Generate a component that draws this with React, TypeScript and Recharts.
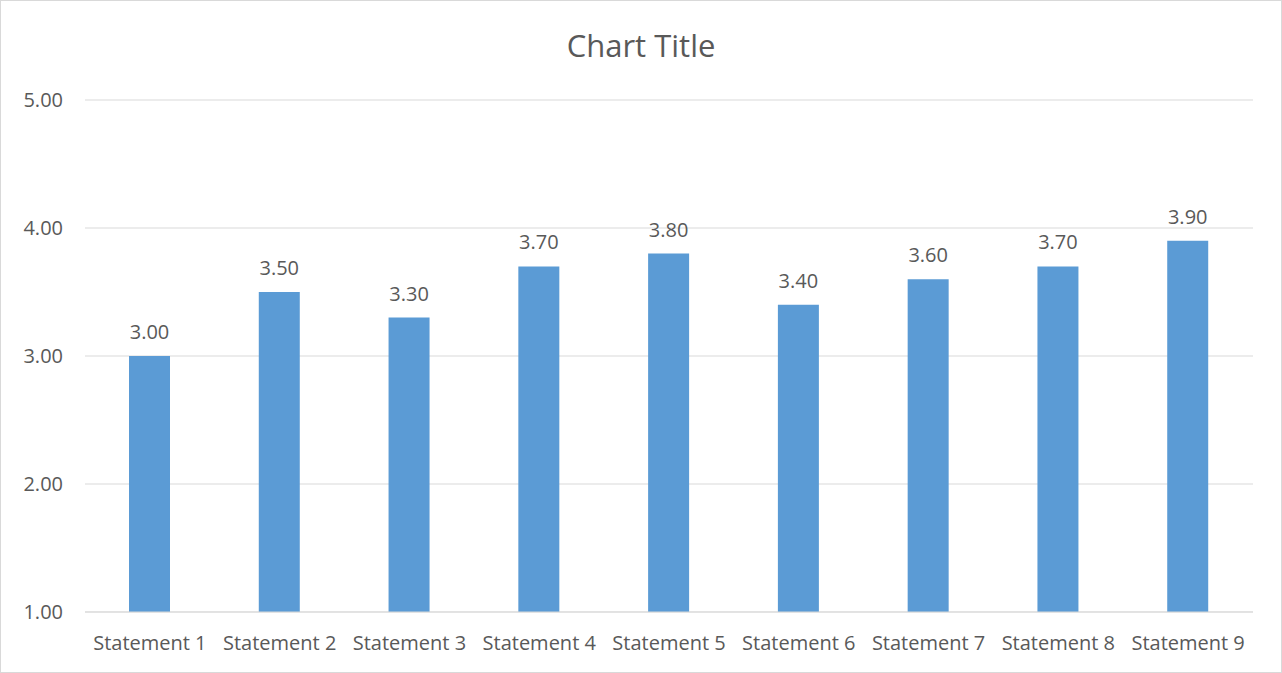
import { BarChart, Bar, XAxis, YAxis, CartesianGrid, LabelList } from 'recharts';

const categories = [
  'Statement 1',
  'Statement 2',
  'Statement 3',
  'Statement 4',
  'Statement 5',
  'Statement 6',
  'Statement 7',
  'Statement 8',
  'Statement 9',
];
const scores = [3.0, 3.5, 3.3, 3.7, 3.8, 3.4, 3.6, 3.7, 3.9];
const yTicks = [1, 2, 3, 4, 5];

const data = categories.map((name, i) => ({ name, score: scores[i] }));

const FONT = '"Open Sans", "Noto Sans", sans-serif';
const TEXT = '#595959';

export default function App() {
  return (
    <div
      style={{
        position: 'fixed',
        top: 0,
        left: 0,
        width: 1282,
        height: 673,
        background: '#fff',
        border: '1px solid #d9d9d9',
        boxSizing: 'border-box',
        fontFamily: FONT,
      }}
    >
      <div
        style={{
          position: 'absolute',
          top: 23,
          left: 0,
          width: '100%',
          textAlign: 'center',
          fontSize: 31,
          color: TEXT,
          lineHeight: '42px',
        }}
      >
        Chart Title
      </div>
      <BarChart
        width={1280}
        height={671}
        data={data}
        margin={{ top: 99, right: 28, bottom: 0, left: 0 }}
        barCategoryGap={0}
      >
        <CartesianGrid vertical={false} stroke="#d9d9d9" />
        <XAxis
          dataKey="name"
          height={60}
          tickLine={false}
          axisLine={{ stroke: '#d9d9d9' }}
          tickSize={0}
          tickMargin={24}
          interval={0}
          tick={{ fill: TEXT, fontSize: 20, fontFamily: FONT }}
        />
        <YAxis
          domain={[1, 5]}
          ticks={yTicks}
          width={84}
          tickLine={false}
          axisLine={false}
          tickSize={0}
          tickMargin={22}
          tickFormatter={(v: number) => v.toFixed(2)}
          tick={{ fill: TEXT, fontSize: 20, fontFamily: FONT }}
        />
        <Bar dataKey="score" fill="#5b9bd5" barSize={41} isAnimationActive={false}>
          <LabelList
            dataKey="score"
            position="top"
            offset={17}
            formatter={(v: any) => Number(v).toFixed(2)}
            style={{ fill: TEXT, fontSize: 20, fontFamily: FONT }}
          />
        </Bar>
      </BarChart>
    </div>
  );
}
